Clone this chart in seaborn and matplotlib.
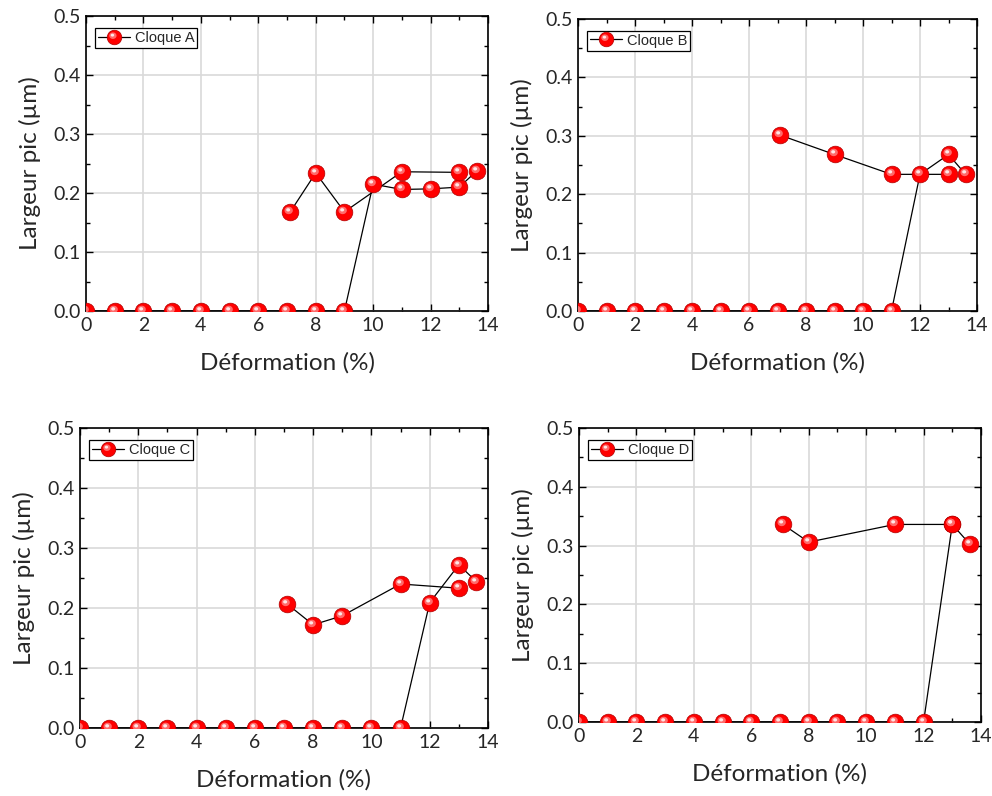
import numpy as np
import pandas as pd
import matplotlib
matplotlib.use("Agg")
import matplotlib.pyplot as plt
import seaborn as sns
from matplotlib.path import Path
from matplotlib.lines import Line2D
from matplotlib.legend_handler import HandlerTuple
from matplotlib.ticker import MultipleLocator, FormatStrFormatter

# ---------------- data ----------------
labels = ["Cloque A", "Cloque B", "Cloque C", "Cloque D"]

# series 1 (zero level then jump)
a1_x = [0, 1, 2, 3, 4, 5, 6, 7, 8, 9, 10, 11, 12, 13, 13.6]
a1_y = [0, 0, 0, 0, 0, 0, 0, 0, 0, 0, 0.215, 0.206, 0.207, 0.210, 0.237]
a2_x = [7.1, 8, 9, 11, 13]
a2_y = [0.167, 0.234, 0.168, 0.236, 0.235]

b1_x = [0, 1, 2, 3, 4, 5, 6, 7, 8, 9, 10, 11, 12, 13, 13.6]
b1_y = [0, 0, 0, 0, 0, 0, 0, 0, 0, 0, 0, 0, 0.234, 0.268, 0.234]
b2_x = [7.1, 9, 11, 13]
b2_y = [0.301, 0.268, 0.234, 0.234]

c1_x = [0, 1, 2, 3, 4, 5, 6, 7, 8, 9, 10, 11, 12, 13, 13.6]
c1_y = [0, 0, 0, 0, 0, 0, 0, 0, 0, 0, 0, 0, 0.209, 0.272, 0.244]
c2_x = [7.1, 8, 9, 11, 13]
c2_y = [0.207, 0.172, 0.187, 0.240, 0.233]

d1_x = [0, 1, 2, 3, 4, 5, 6, 7, 8, 9, 10, 11, 12, 13, 13.6]
d1_y = [0, 0, 0, 0, 0, 0, 0, 0, 0, 0, 0, 0, 0, 0.336, 0.303]
d2_x = [7.1, 8, 11, 13]
d2_y = [0.336, 0.306, 0.336, 0.336]

panels = [
    (a1_x, a1_y, a2_x, a2_y),
    (b1_x, b1_y, b2_x, b2_y),
    (c1_x, c1_y, c2_x, c2_y),
    (d1_x, d1_y, d2_x, d2_y),
]

xlabel = "Déformation (%)"
ylabel = "Largeur pic (µm)"

# ---------------- style ----------------
sns.set_theme(style="ticks")
plt.rcParams["font.family"] = ["Lato", "DejaVu Sans"]

W, H = 992, 796
fig = plt.figure(figsize=(W / 100, H / 100), dpi=100)

def frac(l, r, t, b):
    return [l / W, (H - b) / H, (r - l) / W, (b - t) / H]

rects = [
    frac(86, 488, 16, 311),
    frac(578, 977, 19, 311),
    frac(80, 488, 428, 728),
    frac(579, 981, 428, 722),
]

def spot_path(cx, cy, rx, ry):
    theta = np.linspace(0, 2 * np.pi, 40)
    hx = cx + rx * np.cos(theta)
    hy = cy + ry * np.sin(theta)
    verts = [(1, 0), (-1, 0)] + list(zip(hx, hy))
    codes = [Path.MOVETO, Path.MOVETO, Path.MOVETO] + [Path.LINETO] * (len(hx) - 2) + [Path.CLOSEPOLY]
    return Path(verts, codes)

# glossy sphere look: a soft pink glow plus a bright spot, upper-left
glow_path = spot_path(-0.22, 0.25, 0.50, 0.45)
spot_path_s = spot_path(-0.28, 0.32, 0.24, 0.20)

MS = 12
RED = "#ff0000"

def sphere_kw(ms):
    return [
        dict(marker="o", ms=ms, mfc=RED, mec="#b00000", mew=0.5),
        dict(marker=glow_path, ms=ms, mfc="#ff6a6a", mec="none"),
        dict(marker=spot_path_s, ms=ms, mfc="#ffe6e6", mec="none"),
    ]

def draw_series(ax, xs, ys):
    df = pd.DataFrame({"x": xs, "y": ys})
    sns.lineplot(data=df, x="x", y="y", ax=ax, sort=False, estimator=None,
                 color="black", lw=0.9, zorder=2)
    for k, kw in enumerate(sphere_kw(MS)):
        ax.plot(df["x"], df["y"], ls="none", zorder=3 + k, **kw)

for i, (rect, (x1, y1, x2, y2)) in enumerate(zip(rects, panels)):
    ax = fig.add_axes(rect)
    draw_series(ax, x1, y1)
    draw_series(ax, x2, y2)
    ax.set_xlim(0, 14)
    ax.set_ylim(0, 0.5)
    ax.xaxis.set_major_locator(MultipleLocator(2))
    ax.xaxis.set_minor_locator(MultipleLocator(1))
    ax.yaxis.set_major_locator(MultipleLocator(0.1))
    ax.yaxis.set_minor_locator(MultipleLocator(0.05))
    ax.yaxis.set_major_formatter(FormatStrFormatter("%.1f"))
    ax.grid(True, which="major", color="#d9d9d9", lw=1.2, zorder=0)
    ax.set_axisbelow(True)
    ax.tick_params(which="both", direction="in", top=True, right=True,
                   labelsize=14, color="black", width=1.0, pad=4)
    ax.tick_params(which="major", length=5)
    ax.tick_params(which="minor", length=3)
    for s in ax.spines.values():
        s.set_linewidth(1.2)
        s.set_color("black")
    ax.set_xlabel(xlabel, fontsize=17.5, labelpad=13)
    ax.set_ylabel(ylabel, fontsize=17.5, labelpad=9)

    h_line = Line2D([], [], color="black", lw=0.9)
    hs = [h_line] + [Line2D([], [], ls="none", **kw) for kw in sphere_kw(MS - 1.5)]
    leg = ax.legend([tuple(hs)], [labels[i]],
                    handler_map={tuple: HandlerTuple(ndivide=1, pad=0)},
                    loc="upper left", bbox_to_anchor=(0.012, 0.975),
                    frameon=True, fancybox=False, framealpha=1,
                    edgecolor="black", borderpad=0.2, handlelength=2.2,
                    handletextpad=0.3, borderaxespad=0.3,
                    prop={"family": "Liberation Sans", "size": 10.5})
    leg.get_frame().set_linewidth(0.9)

fig.savefig("out.png", dpi=100)
